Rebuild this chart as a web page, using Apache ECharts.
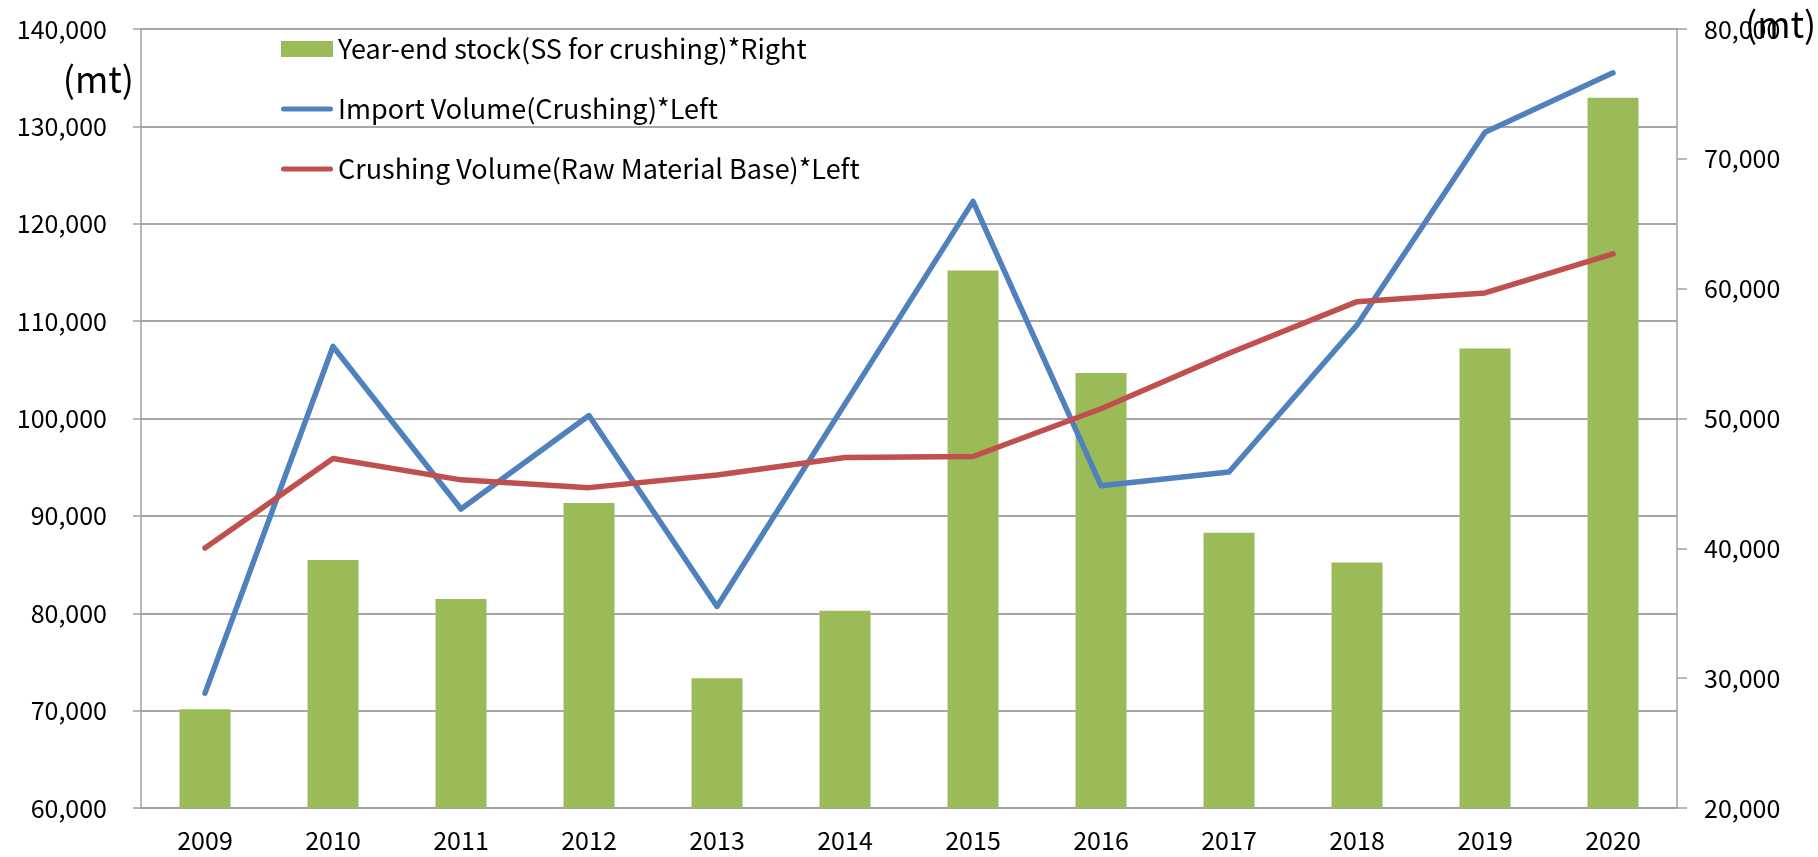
<!DOCTYPE html>
<html lang="en">

<head>
  <meta charset="UTF-8" />
  <title>Soybean stock, import and crushing volume</title>
  <script src="https://cdn.jsdelivr.net/npm/echarts@6/dist/echarts.min.js"></script>
  <style>
    html, body {
      margin: 0;
      padding: 0;
      background: #fff;
    }

    #chart {
      width: 1818px;
      height: 857px;
    }
  </style>
</head>

<body>
  <div id="chart"></div>

  <script>
    const years = ["2009", "2010", "2011", "2012", "2013", "2014", "2015", "2016", "2017", "2018", "2019", "2020"];

    // bars, right axis
    const yearEndStock = [27600, 39100, 36100, 43500, 30000, 35200, 61400, 53500, 41200, 38900, 55400, 74700];
    // lines, left axis
    const importVolume = [71800, 107400, 90700, 100300, 80700, 101500, 122300, 93100, 94500, 109600, 129400, 135500];
    const crushingVolume = [86700, 95900, 93700, 92900, 94200, 96000, 96100, 101000, 106700, 112000, 112900, 116900];

    const seriesNames = [
      "Year-end stock(SS for crushing)*Right",
      "Import Volume(Crushing)*Left",
      "Crushing Volume(Raw Material Base)*Left"
    ];

    const font = "'Noto Sans CJK JP', 'Noto Sans', sans-serif";
    const axisGray = "#a0a0a0";
    const gridGray = "#898989";
    // flat bar used as legend icon for the two lines
    const lineIcon = "path://M2.5,0 L49.5,0 A2.5,2.5 0 0 1 49.5,5 L2.5,5 A2.5,2.5 0 0 1 2.5,0 Z";

    const chart = echarts.init(document.getElementById("chart"));

    const option = {
      backgroundColor: "#fff",
      animation: false,
      textStyle: { fontFamily: font, color: "#000" },
      grid: {
        left: 141,
        right: 141,
        top: 29,
        bottom: 49,
        outerBoundsMode: "none"
      },
      legend: {
        orient: "vertical",
        left: 281,
        top: 33,
        padding: 0,
        itemWidth: 52,
        itemHeight: 16,
        itemGap: 28,
        textStyle: { fontFamily: font, fontSize: 27, color: "#000", lineHeight: 32 },
        data: [
          { name: seriesNames[0], icon: "rect" },
          { name: seriesNames[1], icon: lineIcon },
          { name: seriesNames[2], icon: lineIcon }
        ]
      },
      xAxis: {
        type: "category",
        data: years,
        axisLine: { lineStyle: { color: axisGray, width: 1.5 } },
        axisTick: { length: 8, lineStyle: { color: axisGray, width: 1.5 } },
        axisLabel: { fontFamily: font, fontSize: 25, color: "#000", margin: 20 }
      },
      yAxis: [
        {
          type: "value",
          min: 60000,
          max: 140000,
          interval: 10000,
          axisLine: { show: true, lineStyle: { color: axisGray, width: 1.5 } },
          axisTick: { show: true, length: 8, lineStyle: { color: axisGray, width: 1.5 } },
          axisLabel: {
            fontFamily: font,
            fontSize: 25,
            color: "#000",
            margin: 34,
            formatter: (v) => v.toLocaleString("en-US")
          },
          splitLine: { show: true, lineStyle: { color: gridGray, width: 1.5 } }
        },
        {
          type: "value",
          position: "right",
          min: 20000,
          max: 80000,
          interval: 10000,
          axisLine: { show: true, lineStyle: { color: axisGray, width: 1.5 } },
          axisTick: { show: true, length: 10, lineStyle: { color: axisGray, width: 1.5 } },
          axisLabel: {
            fontFamily: font,
            fontSize: 25,
            color: "#000",
            margin: 27,
            formatter: (v) => v.toLocaleString("en-US")
          },
          splitLine: { show: false }
        }
      ],
      graphic: [
        {
          type: "text",
          x: 134,
          y: 79,
          style: {
            text: "(mt)", fontFamily: font, fontSize: 36, fill: "#000",
            align: "right", verticalAlign: "middle"
          }
        },
        {
          type: "text",
          x: 1745,
          y: 24,
          style: {
            text: "(mt)", fontFamily: font, fontSize: 36, fill: "#000",
            align: "left", verticalAlign: "middle"
          }
        }
      ],
      series: [
        {
          name: seriesNames[0],
          type: "bar",
          yAxisIndex: 1,
          barWidth: 51,
          data: yearEndStock,
          itemStyle: { color: "#9bbb59" }
        },
        {
          name: seriesNames[1],
          type: "line",
          yAxisIndex: 0,
          data: importVolume,
          symbol: "none",
          lineStyle: { color: "#4f81bd", width: 5.5, cap: "round", join: "round" },
          itemStyle: { color: "#4f81bd" }
        },
        {
          name: seriesNames[2],
          type: "line",
          yAxisIndex: 0,
          data: crushingVolume,
          symbol: "none",
          lineStyle: { color: "#c0504d", width: 5.5, cap: "round", join: "round" },
          itemStyle: { color: "#c0504d" }
        }
      ]
    };

    chart.setOption(option);
  </script>
</body>

</html>
